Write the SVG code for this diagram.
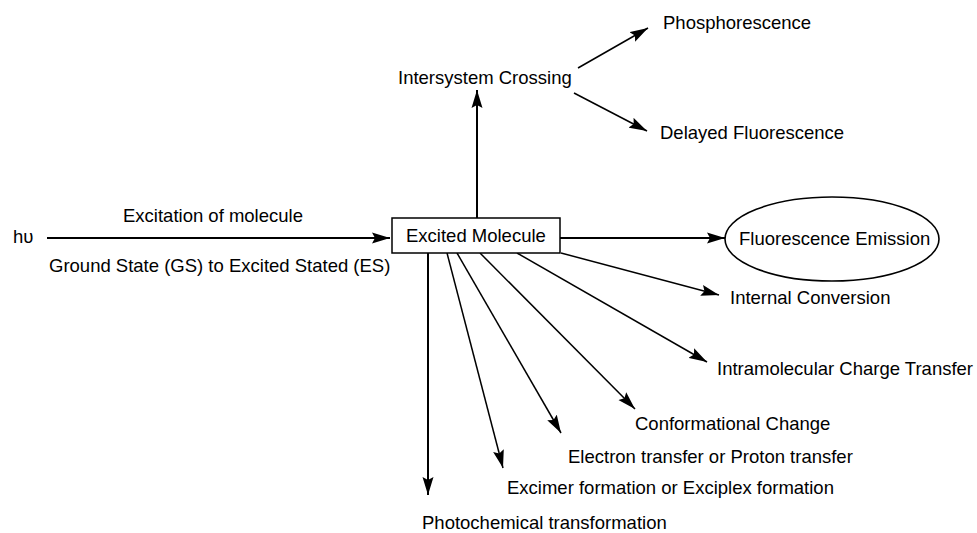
<svg xmlns="http://www.w3.org/2000/svg" width="977" height="533" viewBox="0 0 977 533">
<style>
text { font-family: "Liberation Sans", Arial, sans-serif; font-size: 18.5px; fill: #000; }
.thick { stroke: #000; stroke-width: 2; fill: none; }
.thin { stroke: #000; stroke-width: 1.5; fill: none; }
</style>
<defs>
<marker id="ah" markerUnits="userSpaceOnUse" markerWidth="20" markerHeight="12" refX="18" refY="5.5" orient="auto" viewBox="0 0 20 11">
<path d="M0,0 L18,5.5 L0,11 L3,5.5 Z" fill="#000"/>
</marker>
</defs>
<rect width="977" height="533" fill="#fff"/>
<g id="connectors">
<line class="thick" x1="47" y1="238" x2="390" y2="238" marker-end="url(#ah)"/>
<line class="thick" x1="477" y1="218" x2="477" y2="90" marker-end="url(#ah)"/>
<line class="thin" x1="578" y1="68" x2="648" y2="28" marker-end="url(#ah)"/>
<line class="thin" x1="574" y1="93" x2="647" y2="131" marker-end="url(#ah)"/>
<line class="thick" x1="560" y1="238" x2="725" y2="238" marker-end="url(#ah)"/>
<line class="thin" x1="561" y1="253" x2="719" y2="295" marker-end="url(#ah)"/>
<line class="thin" x1="517" y1="253" x2="707" y2="362" marker-end="url(#ah)"/>
<line class="thin" x1="480" y1="253" x2="635" y2="409" marker-end="url(#ah)"/>
<line class="thin" x1="457" y1="253" x2="561" y2="433" marker-end="url(#ah)"/>
<line class="thin" x1="447" y1="253" x2="503" y2="468" marker-end="url(#ah)"/>
<line class="thick" x1="428" y1="253" x2="428" y2="495" marker-end="url(#ah)"/>
</g>
<g id="hv"><text x="13" y="243">hυ</text></g>
<g id="excitation-labels">
<text x="123" y="222">Excitation of molecule</text>
<text x="49" y="272">Ground State (GS) to Excited Stated (ES)</text>
</g>
<g id="excited-molecule">
<rect x="392" y="218" width="168" height="35" fill="#fff" stroke="#000" stroke-width="1.5"/>
<text x="406" y="242">Excited Molecule</text>
</g>
<g id="isc"><text x="398" y="84">Intersystem Crossing</text></g>
<g id="phosphorescence"><text x="663" y="29">Phosphorescence</text></g>
<g id="delayed-fluorescence"><text x="660" y="139">Delayed Fluorescence</text></g>
<g id="fluorescence-emission">
<ellipse cx="832" cy="239" rx="107" ry="42" fill="#fff" stroke="#000" stroke-width="1.6"/>
<text x="739" y="245">Fluorescence Emission</text>
</g>
<g id="internal-conversion"><text x="730" y="304">Internal Conversion</text></g>
<g id="ict"><text x="717" y="375">Intramolecular Charge Transfer</text></g>
<g id="conformational"><text x="635" y="430">Conformational Change</text></g>
<g id="electron"><text x="568" y="463">Electron transfer or Proton transfer</text></g>
<g id="excimer"><text x="507" y="494">Excimer formation or Exciplex formation</text></g>
<g id="photochemical"><text x="422" y="529">Photochemical transformation</text></g>
</svg>
